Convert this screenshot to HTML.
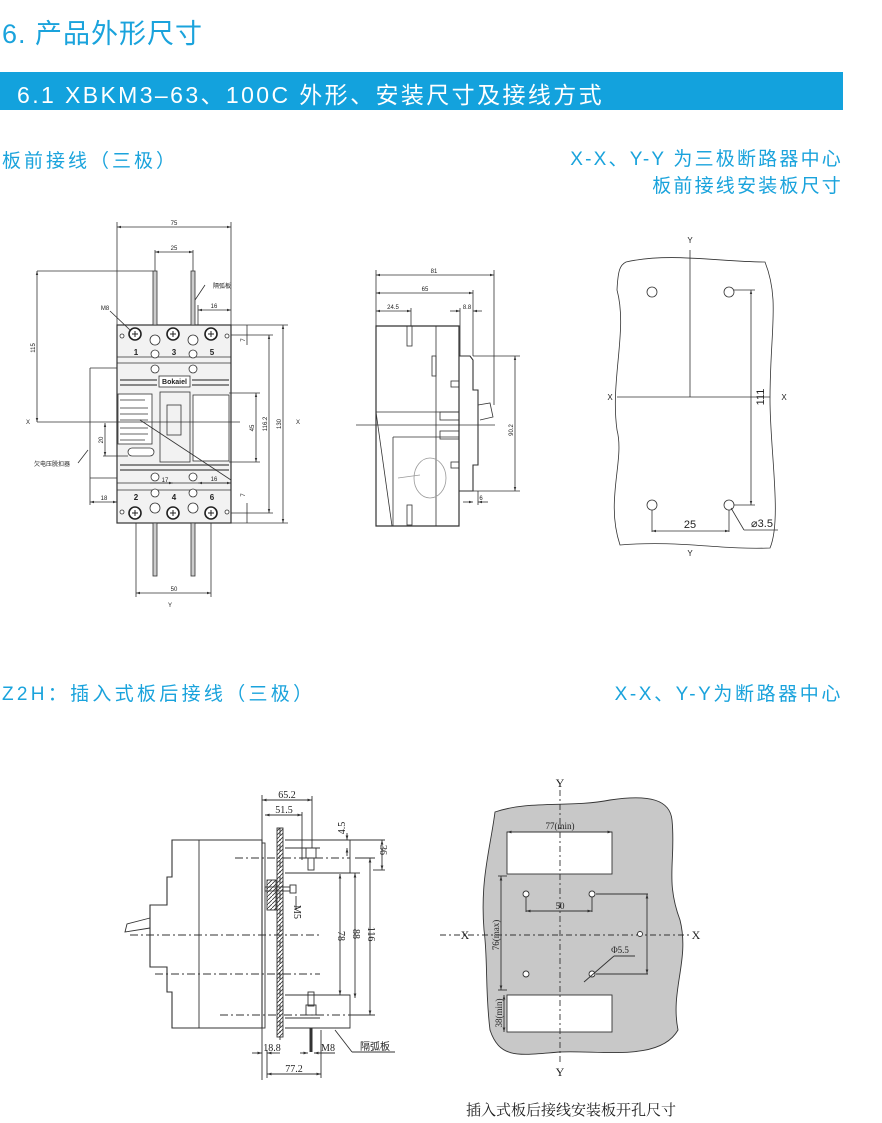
<!DOCTYPE html>
<html><head><meta charset="utf-8">
<style>
html,body{margin:0;padding:0;background:#fff;}
body{width:882px;height:1123px;position:relative;overflow:hidden;font-family:"Liberation Sans","Noto Sans CJK SC",sans-serif;}
.t{position:absolute;color:#1aa3dc;white-space:nowrap;}
svg{position:absolute;left:0;top:0;}
</style></head><body>
<div class="t" style="left:2px;top:12px;font-size:27px;letter-spacing:1px;">6. 产品外形尺寸</div>
<div style="position:absolute;left:0;top:72px;width:843px;height:38px;background:#13a2dd;"></div>
<div class="t" style="left:17px;top:76px;font-size:23px;color:#fff;letter-spacing:2.4px;">6.1 XBKM3–63、100C 外形、安装尺寸及接线方式</div>
<div class="t" style="left:2px;top:146px;font-size:19px;letter-spacing:3px;">板前接线（三极）</div>
<div class="t" style="right:39px;top:146px;font-size:19px;text-align:right;line-height:27px;letter-spacing:2.2px;">X-X、Y-Y 为三极断路器中心<br>板前接线安装板尺寸</div>
<div class="t" style="left:2px;top:679px;font-size:19px;letter-spacing:3.3px;">Z2H：插入式板后接线（三极）</div>
<div class="t" style="right:39px;top:679px;font-size:19px;letter-spacing:2.6px;">X-X、Y-Y为断路器中心</div>
<div style="position:absolute;left:466px;top:1099px;font-size:15px;font-family:'Liberation Serif','Noto Serif CJK SC',serif;color:#222;">插入式板后接线安装板开孔尺寸</div>

<svg width="882" height="1123" viewBox="0 0 882 1123" xmlns="http://www.w3.org/2000/svg">
<defs>
<marker id="a" viewBox="0 0 10 10" refX="10" refY="5" markerWidth="5" markerHeight="5" orient="auto-start-reverse"><path d="M0,2L10,5L0,8z" fill="#333"/></marker>
<pattern id="h" width="4" height="4" patternUnits="userSpaceOnUse"><path d="M0,4L4,0" stroke="#333" stroke-width="0.8"/></pattern>
</defs>
<g fill="none" stroke="#333" stroke-width="0.8" font-family="Liberation Sans" font-size="6" >
<!-- FRONT VIEW -->
<rect x="117" y="325" width="114" height="198" stroke-width="1.2" fill="#f2f2f2"/>
<line x1="117" y1="357" x2="231" y2="357"/><line x1="117" y1="363" x2="231" y2="363"/>
<line x1="117" y1="490" x2="231" y2="490"/><line x1="117" y1="483" x2="231" y2="483"/>
<g stroke="#888" stroke-width="2"><line x1="120" y1="380" x2="157" y2="380"/><line x1="120" y1="385" x2="157" y2="385"/><line x1="192" y1="380" x2="229" y2="380"/><line x1="192" y1="385" x2="229" y2="385"/>
<line x1="120" y1="465" x2="229" y2="465"/><line x1="120" y1="470" x2="229" y2="470"/></g>
<rect x="159" y="376" width="31" height="11" fill="#fff"/>
<text x="174.5" y="384" font-size="7" font-weight="bold" fill="#222" stroke="none" text-anchor="middle">Bokaiel</text>
<rect x="118" y="394" width="34" height="50" fill="#fff"/>
<g stroke="#999" stroke-width="1.5"><line x1="120" y1="400" x2="145" y2="400"/><line x1="120" y1="408" x2="148" y2="408"/><line x1="120" y1="414" x2="148" y2="414"/><line x1="120" y1="420" x2="148" y2="420"/><line x1="120" y1="428" x2="148" y2="428"/><line x1="120" y1="434" x2="148" y2="434"/><line x1="120" y1="440" x2="145" y2="440"/></g>
<rect x="128" y="448" width="26" height="8" rx="4" fill="#fff"/>
<rect x="160" y="392" width="30" height="70"/><rect x="167" y="405" width="14" height="30"/>
<rect x="193" y="395" width="36" height="66" fill="#fff"/>
<line x1="140" y1="420" x2="231" y2="480"/>
<g fill="#fff" stroke="#222" stroke-width="1.6">
<circle cx="135" cy="334" r="6"/><circle cx="173" cy="334" r="6"/><circle cx="211" cy="334" r="6"/>
<circle cx="135" cy="513" r="6"/><circle cx="173" cy="513" r="6"/><circle cx="211" cy="513" r="6"/>
</g>
<g fill="#fff">
<circle cx="155" cy="340" r="5"/><circle cx="193" cy="340" r="5"/><circle cx="155" cy="354" r="4"/><circle cx="193" cy="354" r="4"/>
<circle cx="155" cy="369" r="4"/><circle cx="193" cy="369" r="4"/><circle cx="155" cy="477" r="4"/><circle cx="193" cy="477" r="4"/>
<circle cx="155" cy="493" r="4"/><circle cx="193" cy="493" r="4"/><circle cx="155" cy="508" r="5"/><circle cx="193" cy="508" r="5"/>
<circle cx="122" cy="336" r="2"/><circle cx="227" cy="336" r="2"/><circle cx="122" cy="512" r="2"/><circle cx="227" cy="512" r="2"/>
</g>
<g stroke="#222" stroke-width="1"><path d="M132,334h6M135,331v6M170,334h6M173,331v6M208,334h6M211,331v6M132,513h6M135,510v6M170,513h6M173,510v6M208,513h6M211,510v6"/></g>
<g fill="#ccc"><rect x="153" y="271" width="4" height="54"/><rect x="191" y="271" width="4" height="54"/><rect x="153" y="523" width="4" height="53"/><rect x="191" y="523" width="4" height="53"/></g>
<g fill="#222" stroke="none" font-size="8" font-weight="bold" text-anchor="middle"><text x="136" y="355">1</text><text x="174" y="355">3</text><text x="212" y="355">5</text><text x="136" y="500">2</text><text x="174" y="500">4</text><text x="212" y="500">6</text></g>
<!-- dims front -->
<line x1="117" y1="227" x2="231" y2="227" marker-start="url(#a)" marker-end="url(#a)"/><line x1="117" y1="222" x2="117" y2="325"/><line x1="231" y1="222" x2="231" y2="325"/>
<line x1="155" y1="252" x2="193" y2="252" marker-start="url(#a)" marker-end="url(#a)"/><line x1="155" y1="250" x2="155" y2="271"/><line x1="193" y1="250" x2="193" y2="271"/>
<line x1="37" y1="271" x2="153" y2="271"/><line x1="37" y1="271" x2="37" y2="422" marker-start="url(#a)" marker-end="url(#a)"/>
<line x1="37" y1="422" x2="240" y2="422"/>
<line x1="231" y1="325" x2="288" y2="325"/><line x1="231" y1="523" x2="288" y2="523"/><line x1="283" y1="325" x2="283" y2="523" marker-start="url(#a)" marker-end="url(#a)"/>
<line x1="231" y1="335" x2="273" y2="335"/><line x1="231" y1="513" x2="273" y2="513"/><line x1="269" y1="335" x2="269" y2="513" marker-start="url(#a)" marker-end="url(#a)"/>
<line x1="229" y1="393" x2="260" y2="393"/><line x1="229" y1="462" x2="260" y2="462"/><line x1="256" y1="393" x2="256" y2="462" marker-start="url(#a)" marker-end="url(#a)"/>
<line x1="247" y1="325" x2="247" y2="345"/><line x1="247" y1="503" x2="247" y2="523"/>
<line x1="136" y1="523" x2="136" y2="597"/><line x1="211" y1="523" x2="211" y2="597"/><line x1="136" y1="593" x2="211" y2="593" marker-start="url(#a)" marker-end="url(#a)"/>
<line x1="90" y1="368" x2="117" y2="368"/><line x1="90" y1="368" x2="90" y2="505"/><line x1="90" y1="478" x2="117" y2="478"/><line x1="90" y1="502" x2="117" y2="502" marker-start="url(#a)" marker-end="url(#a)"/>
<line x1="105" y1="423" x2="105" y2="456" marker-start="url(#a)" marker-end="url(#a)"/><line x1="103" y1="456" x2="128" y2="456"/>
<line x1="198" y1="310" x2="231" y2="310" marker-start="url(#a)" marker-end="url(#a)"/><line x1="198" y1="305" x2="198" y2="325"/>
<line x1="150" y1="483" x2="173" y2="483" marker-end="url(#a)"/><line x1="198" y1="483" x2="231" y2="483" marker-start="url(#a)" marker-end="url(#a)"/>
<line x1="110" y1="311" x2="130" y2="330"/><line x1="205" y1="285" x2="195" y2="300"/><line x1="78" y1="463" x2="88" y2="450"/>
<g fill="#222" stroke="none" text-anchor="middle">
<text x="174" y="225">75</text><text x="174" y="250">25</text><text x="214" y="308">16</text><text x="105" y="310">M8</text><text x="222" y="288">隔弧板</text>
<text x="28" y="424">X</text><text x="298" y="424">X</text><text x="170" y="607">Y</text><text x="174" y="591">50</text>
<text x="104" y="500">18</text><text x="165" y="482">17</text><text x="214" y="481">16</text><text x="52" y="466">欠电压脱扣器</text>
<text transform="translate(35,348) rotate(-90)">115</text><text transform="translate(281,424) rotate(-90)">130</text>
<text transform="translate(267,424) rotate(-90)">116.2</text><text transform="translate(254,428) rotate(-90)">45</text>
<text transform="translate(103,440) rotate(-90)">20</text><text transform="translate(245,340) rotate(-90)">7</text><text transform="translate(245,495) rotate(-90)">7</text>
</g>
<!-- SIDE VIEW -->
<path d="M376,326 H459 V526 H376 Z" stroke-width="1.2"/>
<line x1="436" y1="326" x2="436" y2="526"/><line x1="376" y1="412" x2="459" y2="412"/>
<path d="M376,412 L392,526"/><path d="M393,437 H459"/><path d="M393,437 V526"/>
<path d="M459,356 H470 L473,360 V390 H478 V465 H473 V491 H459" stroke-width="1.1"/>
<path d="M478,405 L490,403 L493,417 L480,420"/>
<rect x="407" y="326" width="5" height="20"/><rect x="407" y="505" width="5" height="20"/><rect x="432" y="356" width="4" height="20"/>
<rect x="451" y="381" width="8" height="6"/><rect x="451" y="462" width="8" height="6"/>
<rect x="440" y="412" width="19" height="8"/><rect x="440" y="431" width="19" height="8"/>
<ellipse cx="430" cy="478" rx="16" ry="20" stroke="#999"/><line x1="398" y1="478" x2="420" y2="475" stroke="#999"/>
<line x1="356" y1="425" x2="495" y2="425"/>
<line x1="376" y1="275" x2="494" y2="275" marker-start="url(#a)" marker-end="url(#a)"/><line x1="376" y1="270" x2="376" y2="326"/><line x1="494" y1="270" x2="494" y2="405"/>
<line x1="376" y1="293" x2="473" y2="293" marker-start="url(#a)" marker-end="url(#a)"/><line x1="473" y1="290" x2="473" y2="356"/>
<line x1="376" y1="311" x2="411" y2="311" marker-start="url(#a)" marker-end="url(#a)"/><line x1="411" y1="308" x2="411" y2="326"/>
<line x1="450" y1="311" x2="460" y2="311" marker-end="url(#a)"/><line x1="460" y1="308" x2="460" y2="356"/><line x1="473" y1="311" x2="482" y2="311" marker-start="url(#a)"/>
<line x1="473" y1="356" x2="520" y2="356"/><line x1="473" y1="491" x2="520" y2="491"/><line x1="515" y1="356" x2="515" y2="491" marker-start="url(#a)" marker-end="url(#a)"/>
<line x1="463" y1="502" x2="473" y2="502" marker-end="url(#a)"/><line x1="478" y1="502" x2="488" y2="502" marker-start="url(#a)"/><line x1="478" y1="491" x2="478" y2="505"/>
<g fill="#222" stroke="none" text-anchor="middle"><text x="434" y="273">81</text><text x="425" y="291">65</text><text x="393" y="309">24.5</text><text x="467" y="309">8.8</text><text x="481" y="500">6</text>
<text transform="translate(513,430) rotate(-90)">90.2</text></g>
<!-- TOP RIGHT PLATE -->
<path d="M626,262 C670,252 720,262 765,262 C780,300 770,330 770,400 C770,450 782,520 770,548 C720,550 680,540 620,545 C605,500 625,460 617,430 C610,380 628,330 617,290 C618,270 620,265 626,262 Z"/>
<line x1="690" y1="250" x2="690" y2="397"/><line x1="617" y1="397" x2="770" y2="397"/>
<circle cx="652" cy="292" r="5"/><circle cx="729" cy="292" r="5"/><circle cx="652" cy="505" r="5"/><circle cx="729" cy="505" r="5"/>
<line x1="734" y1="290" x2="755" y2="290"/><line x1="734" y1="505" x2="755" y2="505"/><line x1="751" y1="290" x2="751" y2="505" marker-start="url(#a)" marker-end="url(#a)"/>
<line x1="652" y1="510" x2="652" y2="532"/><line x1="729" y1="510" x2="729" y2="532"/><line x1="652" y1="531" x2="729" y2="531" marker-start="url(#a)" marker-end="url(#a)"/>
<line x1="731" y1="508" x2="744" y2="530"/><line x1="744" y1="530" x2="778" y2="530"/>
<g fill="#222" stroke="none" font-size="11" text-anchor="middle"><text x="690" y="243" font-size="8">Y</text><text x="690" y="556" font-size="8">Y</text>
<text x="610" y="400" font-size="8">X</text><text x="784" y="400" font-size="8">X</text><text x="690" y="528">25</text><text x="762" y="527">⌀3.5</text>
<text transform="translate(764,397) rotate(-90)">111</text></g>
</g>
<!-- BOTTOM SIDE VIEW -->
<g fill="none" stroke="#333" stroke-width="0.9" font-family="Liberation Serif" font-size="10">
<path d="M172,840 H262 V1028 H172 V992 H167 V967 H150 V905 H167 V877 H172 Z" stroke-width="1.1"/>
<line x1="199" y1="840" x2="199" y2="1028"/>
<path d="M150,918 L127,924 L125,932 L150,928"/>
<rect x="262" y="843" width="3" height="185"/>
<rect x="277" y="828" width="6" height="209" fill="url(#h)"/>
<rect x="267" y="880" width="9" height="30" fill="url(#h)"/>
<path d="M285,840 H350 V873 H285"/><path d="M285,995 H350 V1028 H285"/>
<line x1="285" y1="848" x2="320" y2="848"/><line x1="285" y1="1018" x2="320" y2="1018"/>
<rect x="306" y="848" width="10" height="10"/><rect x="306" y="1005" width="10" height="10"/>
<rect x="308" y="858" width="6" height="12"/><rect x="308" y="992" width="6" height="14"/>
<line x1="311" y1="1028" x2="311" y2="1052" stroke-width="3"/>
<rect x="265" y="887" width="25" height="4"/><rect x="290" y="885" width="6" height="8"/>
<g stroke-dasharray="8,3,2,3"><line x1="130" y1="935" x2="320" y2="935"/><line x1="155" y1="974" x2="320" y2="974"/><line x1="235" y1="858" x2="350" y2="858"/><line x1="220" y1="1015" x2="350" y2="1015"/><line x1="280" y1="828" x2="280" y2="1040"/></g>
<line x1="262" y1="795" x2="262" y2="1080"/>
<line x1="262" y1="800" x2="312" y2="800" marker-start="url(#a)" marker-end="url(#a)"/><line x1="312" y1="796" x2="312" y2="848"/>
<line x1="265" y1="815" x2="302" y2="815" marker-start="url(#a)" marker-end="url(#a)"/><line x1="302" y1="812" x2="302" y2="860"/>
<line x1="267" y1="1074" x2="321" y2="1074" marker-start="url(#a)" marker-end="url(#a)"/><line x1="321" y1="1030" x2="321" y2="1078"/><line x1="267" y1="1050" x2="267" y2="1078"/>
<line x1="252" y1="1053" x2="262" y2="1053" marker-end="url(#a)"/><line x1="267" y1="1053" x2="280" y2="1053" marker-start="url(#a)"/>
<line x1="300" y1="1053" x2="308" y2="1053" marker-end="url(#a)"/><line x1="314" y1="1053" x2="335" y2="1053" marker-start="url(#a)"/>
<line x1="296" y1="896" x2="296" y2="910"/>
<line x1="340" y1="874" x2="340" y2="995" marker-start="url(#a)" marker-end="url(#a)"/>
<line x1="355" y1="873" x2="355" y2="998" marker-start="url(#a)" marker-end="url(#a)"/>
<line x1="350" y1="873" x2="360" y2="873"/><line x1="350" y1="1015" x2="375" y2="1015"/><line x1="370" y1="858" x2="370" y2="1015" marker-start="url(#a)" marker-end="url(#a)"/><line x1="355" y1="858" x2="375" y2="858"/>
<line x1="350" y1="840" x2="385" y2="840"/><line x1="382" y1="840" x2="382" y2="870" marker-start="url(#a)" marker-end="url(#a)"/><line x1="373" y1="870" x2="385" y2="870"/>
<line x1="347" y1="833" x2="347" y2="840" marker-end="url(#a)"/><line x1="347" y1="848" x2="347" y2="856" marker-start="url(#a)"/>
<line x1="335" y1="1030" x2="352" y2="1052"/><line x1="352" y1="1052" x2="395" y2="1052"/>
<g fill="#222" stroke="none" text-anchor="middle"><text x="287" y="798">65.2</text><text x="284" y="813">51.5</text><text x="294" y="1072">77.2</text>
<text x="272" y="1051">18.8</text><text x="328" y="1051">M8</text><text x="375" y="1050">隔弧板</text>
<text transform="translate(338,936) rotate(90)">78</text><text transform="translate(353,934) rotate(90)">88</text><text transform="translate(368,934) rotate(90)">116</text>
<text transform="translate(380,850) rotate(90)">36</text><text transform="translate(345,828) rotate(-90)">4.5</text><text transform="translate(294,912) rotate(90)">M5</text></g>
</g>
<!-- BOTTOM RIGHT PLATE -->
<g fill="none" stroke="#333" stroke-width="0.9" font-family="Liberation Serif" font-size="9">
<path d="M495,812 C530,800 570,808 610,800 C650,794 670,800 672,820 C676,860 665,880 680,920 C690,960 670,990 678,1030 C660,1062 600,1050 560,1052 C520,1055 500,1060 490,1030 C485,990 488,960 484,930 C480,880 490,850 495,812 Z" fill="#c8c8c8"/>
<rect x="507" y="832" width="105" height="42" fill="#fff"/><rect x="507" y="995" width="105" height="37" fill="#fff"/>
<g stroke-dasharray="6,3,2,3"><line x1="560" y1="790" x2="560" y2="1062"/><line x1="440" y1="935" x2="690" y2="935"/></g>
<g fill="#fff"><circle cx="526" cy="894" r="3"/><circle cx="592" cy="894" r="3"/><circle cx="526" cy="974" r="3"/><circle cx="592" cy="974" r="3"/><circle cx="640" cy="934" r="2.5"/></g>
<line x1="507" y1="832" x2="612" y2="832" marker-start="url(#a)" marker-end="url(#a)"/>
<line x1="526" y1="897" x2="526" y2="912"/><line x1="592" y1="897" x2="592" y2="912"/><line x1="526" y1="911" x2="592" y2="911" marker-start="url(#a)" marker-end="url(#a)"/>
<line x1="596" y1="894" x2="648" y2="894"/><line x1="596" y1="974" x2="648" y2="974"/><line x1="647" y1="894" x2="647" y2="974" marker-start="url(#a)" marker-end="url(#a)"/>
<line x1="501" y1="876" x2="501" y2="990" marker-start="url(#a)" marker-end="url(#a)"/><line x1="498" y1="876" x2="507" y2="876"/><line x1="498" y1="990" x2="507" y2="990"/>
<line x1="504" y1="995" x2="504" y2="1032" marker-start="url(#a)" marker-end="url(#a)"/>
<line x1="584" y1="982" x2="614" y2="956"/><line x1="614" y1="956" x2="635" y2="956"/>
<g fill="#222" stroke="none" text-anchor="middle"><text x="560" y="829">77(min)</text><text x="560" y="909">50</text><text x="620" y="953">Φ5.5</text>
<text x="560" y="787" font-size="12">Y</text><text x="560" y="1076" font-size="12">Y</text>
<text x="465" y="939" font-size="12">X</text><text x="696" y="939" font-size="12">X</text>
<text transform="translate(499,935) rotate(-90)">76(max)</text><text transform="translate(502,1013) rotate(-90)">38(min)</text></g>
</g>
</svg>
</body></html>
